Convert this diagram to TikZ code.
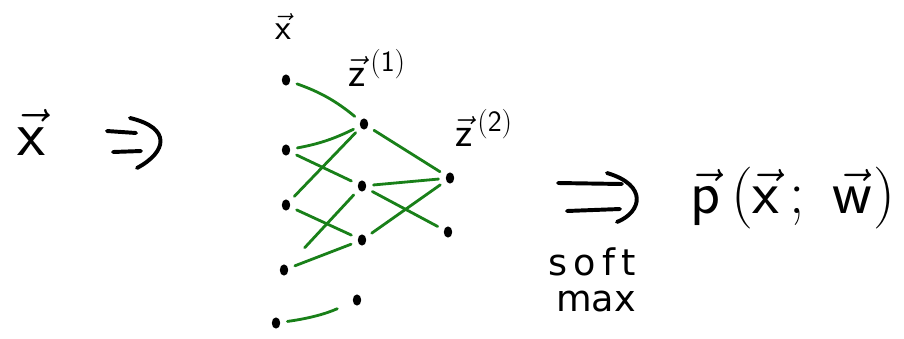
\RequirePackage{fix-cm}
\documentclass[tikz,border=0pt]{standalone}
\usepackage{amsmath}
\usepackage[no-math]{fontspec}
\setmainfont{DejaVu Sans}
\usetikzlibrary{shapes.geometric}
\definecolor{wiregreen}{RGB}{25,128,25}
\tikzset{
  neuron/.style={ellipse, fill=black, inner sep=0pt, minimum width=6pt, minimum height=8pt},
  wire/.style={draw=wiregreen, line width=2pt, line cap=round, shorten <=5pt, shorten >=5pt},
  ink/.style={line width=2.8pt, line cap=round, black},
  bigtext/.style={inner sep=0pt, font=\fontsize{46}{50}\selectfont},
  ptext/.style={inner sep=0pt, font=\fontsize{44}{48}\selectfont},
  midtext/.style={inner sep=0pt, font=\fontsize{30}{34}\selectfont},
  smalltext/.style={inner sep=0pt, font=\fontsize{26}{30}\selectfont}
}
\newcommand{\hv}[1]{\vec{\mathsf{#1}}}
\begin{document}
\begin{tikzpicture}[x=0.025cm,y=-0.025cm]
\useasboundingbox (0,0) rectangle (904,338);

% input, hidden and output columns
\foreach \n/\x/\y in {1/286/80, 2/286/150, 3/286/205, 4/284/270, 5/276/323}
  \node[neuron] (in\n) at (\x,\y) {};
\foreach \n/\x/\y in {1/364/124, 2/362/186, 3/362/240, 4/357/300}
  \node[neuron] (h\n) at (\x,\y) {};
\foreach \n/\x/\y in {1/450/178, 2/448/232}
  \node[neuron] (o\n) at (\x,\y) {};

% labels
\node[smalltext] (xlab) at (283,26) {$\hv{x}$};
\node[midtext] (z1lab) at (377,68) {$\hv{z}^{\,\mathsf{(1)}}$};
\node[midtext] (z2lab) at (484,128) {$\hv{z}^{\,\mathsf{(2)}}$};

% weights
\draw[wire] (in1) to[bend left=10] (h1);
\draw[wire] (in2) to[bend right=8] (h1);
\draw[wire] (in3) -- (h1);
\draw[wire] (in2) -- (h2);
\draw[wire, shorten <=18pt] (in4) -- (h2);
\draw[wire] (in3) -- (h3);
\draw[wire] (in4) -- (h3);
\draw[wire, shorten >=12pt] (in5) to[bend right=8] (h4);
\draw[wire] (h1) -- (o1);
\draw[wire] (h2) -- (o1);
\draw[wire] (h2) -- (o2);
\draw[wire] (h3) -- (o1);

% input vector and arrow
\node[bigtext] (xin) at (31,132) {$\hv{x}$};
\draw[ink] (107,131) -- (136,133);
\draw[ink] (113,152) -- (141,151);
\draw[ink] (130,118) .. controls (172,128) and (167,152) .. (137,168);

% softmax arrow and output
\draw[ink] (558,183) -- (622,184);
\draw[ink] (567,211) -- (620,209);
\draw[ink] (607,173) .. controls (648,185) and (642,212) .. (617,222);
\node[smalltext] (soft) at (592,262) {s\,o\,f\,t};
\node[smalltext] (max) at (596,302) {max};
\node[ptext] (pout) at (793,198) {$\hv{p}\,(\hv{x}\,;\;\hv{w})$};
\end{tikzpicture}
\end{document}
